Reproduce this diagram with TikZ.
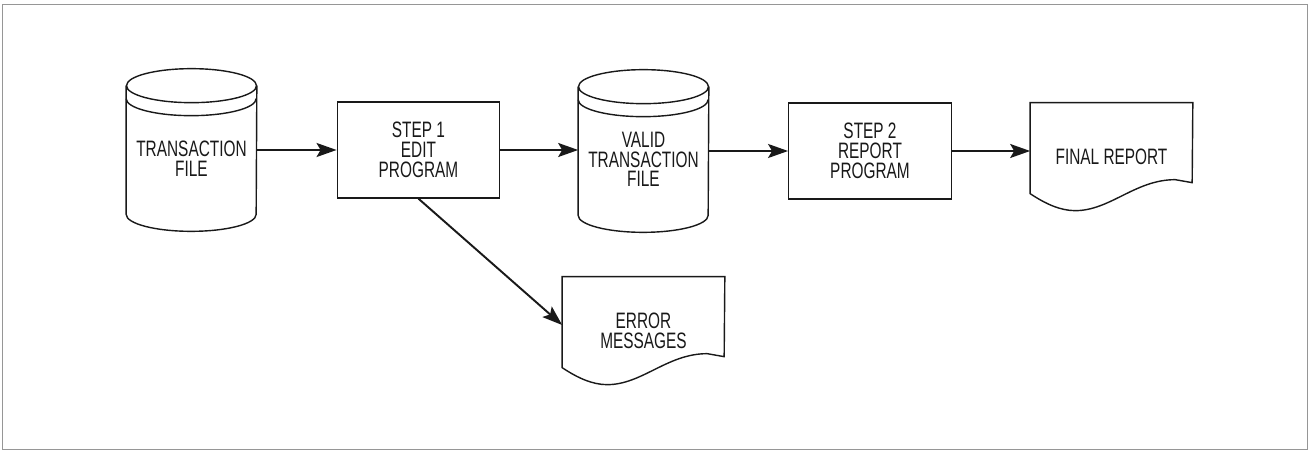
\documentclass[tikz,border=0pt]{standalone}
\usepackage{fontspec}
\usetikzlibrary{calc,arrows.meta}
\newfontfamily\condfont[FakeStretch=0.69]{Liberation Sans}
\definecolor{flowink}{RGB}{25,25,25}
\definecolor{framegray}{RGB}{150,150,150}

% disk file outline round a body node
\newcommand{\dbdraw}[1]{%
  \draw[shapeline] (#1.north west) -- ($(#1.south west)+(0,-17)$)
    arc[start angle=180,end angle=0,x radius=65,y radius=17] -- (#1.north east);
  \draw[shapeline] (#1.north) ellipse[x radius=65,y radius=17];
  \draw[shapeline] ($(#1.north west)+(0,13)$)
    arc[start angle=180,end angle=0,x radius=65,y radius=17];
}
% printed document outline
\newcommand{\docdraw}[1]{%
  \draw[shapeline] (#1.north west) -- ++(0,91)
    .. controls +(15,10) and +(-15,0) .. ++(45,17)
    .. controls +(35,0) and +(-40,0) .. ++(100,-31)
    -- ++(17,3) -- (#1.north east) -- cycle;
}

\begin{document}
\begin{tikzpicture}[x=0.02cm,y=-0.02cm,
  shapeline/.style={draw=flowink,line width=0.8pt},
  flowtext/.style={font=\condfont\fontsize{12.7pt}{11.2pt}\selectfont,text=flowink,align=center,inner sep=0pt},
  dbnode/.style={flowtext,minimum width=2.6cm,minimum height=2.9cm},
  progbox/.style={flowtext,shapeline,minimum width=3.25cm,minimum height=1.92cm},
  docnode/.style={flowtext,minimum width=3.24cm,minimum height=2.16cm},
  flowarrow/.style={draw=flowink,line width=1.1pt,-{Stealth[length=0.4cm,width=0.28cm,inset=0.08cm]}}]
\useasboundingbox (0,0) rectangle (1309,452);
\draw[framegray,line width=0.5pt] (2,4) rectangle (1307,449);

% files and programs
\node[dbnode] (tfile) at (191.5,158.5) {TRANSACTION\\FILE};
\node[progbox] (edit) at (418.5,150) {STEP 1\\EDIT\\PROGRAM};
\node[dbnode] (vfile) at (643.5,159.5) {VALID\\TRANSACTION\\FILE};
\node[progbox] (report) at (870,151) {STEP 2\\REPORT\\PROGRAM};
\node[docnode] (final) at (1111.5,157) {FINAL REPORT};
\node[docnode] (errmsg) at (643.5,331) {ERROR\\MESSAGES};
\dbdraw{tfile}
\dbdraw{vfile}
\docdraw{final}
\docdraw{errmsg}

% connectors
\draw[flowarrow] (edit.west -| tfile.east) -- (edit.west);
\draw[flowarrow] (edit.east) -- (edit.east -| vfile.west);
\draw[flowarrow] (report.west -| vfile.east) -- (report.west);
\draw[flowarrow] (report.east) -- (report.east -| final.west);
\draw[flowarrow] (edit.south) -- ([yshift=0.12cm]errmsg.west);
\end{tikzpicture}
\end{document}
